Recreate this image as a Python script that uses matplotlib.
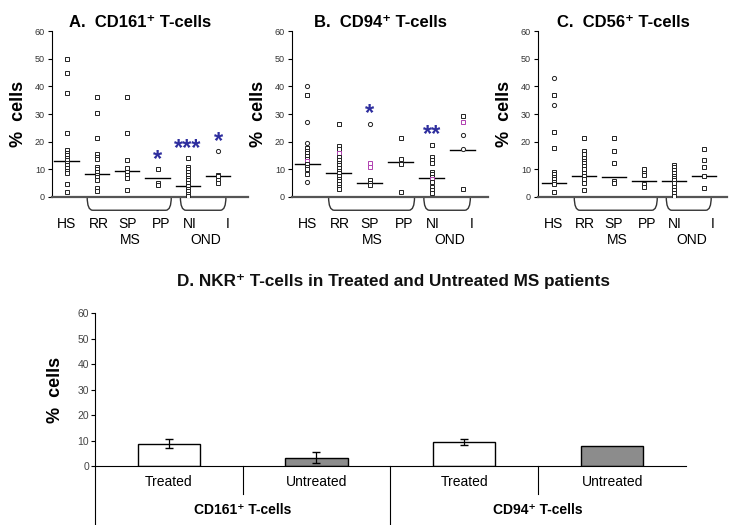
import matplotlib.pyplot as plt
import matplotlib.transforms as mtransforms
from matplotlib.path import Path
from matplotlib.patches import PathPatch

plt.rcParams['font.family'] = ['Liberation Sans', 'DejaVu Sans']

groups = ["HS", "RR", "SP", "PP", "NI", "I"]

# panel A - CD161+ T-cells
cd161 = {
    "HS": [49.9, 44.7, 37.5, 23.0, 17.0, 16.0, 15.2, 14.2, 13.4, 12.4, 11.4, 10.5, 9.5, 8.5, 4.7, 1.9],
    "RR": [36.2, 30.2, 21.2, 15.4, 14.6, 13.6, 11.0, 10.0, 9.0, 8.1, 7.1, 6.1, 3.1, 2.3],
    "SP": [36.2, 23.0, 13.4, 10.4, 9.2, 8.0, 6.8, 2.6],
    "PP": [10.0, 5.2, 4.2],
    "NI": [14.0, 11.0, 10.0, 9.0, 8.0, 7.0, 6.0, 5.0, 4.0, 3.0, 2.0, 1.0, 0.5],
    "I": [16.5, 8.0, 7.5, 6.0, 5.0],
}
cd161_medians = [13.0, 8.2, 9.5, 7.0, 4.0, 7.5]
cd161_circles = {"I": [16.5]}
cd161_pink = {}
cd161_stars = {"PP": "*", "NI": "***", "I": "*"}

# panel B - CD94+ T-cells
cd94 = {
    "HS": [40.1, 37.0, 27.2, 19.6, 17.6, 16.7, 15.8, 14.8, 13.8, 12.9, 11.9, 11.0, 10.0, 8.3, 5.4],
    "RR": [26.3, 18.4, 17.2, 15.8, 14.4, 13.4, 12.4, 11.5, 10.5, 9.5, 8.6, 7.6, 6.6, 5.7, 4.7, 3.7, 2.8],
    "SP": [26.4, 12.2, 11.0, 6.1, 5.2, 4.2],
    "PP": [21.2, 13.7, 11.9, 1.9],
    "NI": [18.8, 14.6, 13.4, 12.2, 9.1, 8.3, 7.3, 6.4, 5.4, 3.7, 2.5, 1.6],
    "I": [29.3, 27.1, 22.4, 17.2, 3.0],
}
cd94_medians = [12.0, 8.8, 5.2, 12.8, 7.0, 17.0]
cd94_circles = {"HS": [40.1, 27.2, 19.6, 5.4], "SP": [26.4], "I": [22.4, 17.2]}
cd94_pink = {"HS": [12.9], "RR": [15.8], "SP": [12.2, 11.0], "NI": [6.4], "I": [27.1]}
cd94_stars = {"SP": "*", "NI": "**"}

# panel C - CD56+ T-cells
cd56 = {
    "HS": [43.1, 36.9, 33.2, 23.6, 17.8, 9.1, 8.3, 7.3, 6.4, 5.5, 4.7, 1.9],
    "RR": [21.2, 16.6, 15.4, 14.2, 13.0, 12.2, 11.2, 10.0, 8.8, 7.6, 6.4, 5.2, 2.5],
    "SP": [21.2, 16.6, 12.4, 5.9, 4.9],
    "PP": [10.0, 8.8, 8.0, 4.7, 3.7],
    "NI": [11.6, 10.7, 9.8, 8.6, 7.6, 6.8, 6.1, 4.9, 3.7, 2.5, 1.3, 0.4],
    "I": [17.2, 13.4, 11.0, 7.6, 3.4],
}
cd56_medians = [5.2, 7.5, 7.2, 5.9, 5.9, 7.5]
cd56_circles = {"HS": [43.1, 33.2]}
cd56_pink = {}
cd56_stars = {}

# panel D - treated vs untreated
d_labels = ["Treated", "Untreated", "Treated", "Untreated"]
d_groups = ["CD161\u207a T-cells", "CD94\u207a T-cells"]
d_means = [8.9, 3.4, 9.4, 8.1]
d_err = [1.8, 2.0, 1.2, 0.0]
d_colors = ["white", "#8c8c8c", "white", "#8c8c8c"]

STAR_BLUE = "#2e2e9e"
PINK = "#b040b0"

fig = plt.figure(figsize=(7.29, 5.25), dpi=100)


def brace(ax, x0, x1):
    tr = mtransforms.blended_transform_factory(ax.transData, ax.transAxes)
    yb = -0.08
    r = 0.18
    verts = [(x0, 0.0), (x0, yb), (x0 + r, yb), (x1 - r, yb), (x1, yb), (x1, 0.0)]
    codes = [Path.MOVETO, Path.CURVE3, Path.CURVE3, Path.LINETO, Path.CURVE3, Path.CURVE3]
    ax.add_patch(PathPatch(Path(verts, codes), transform=tr, fill=False,
                           lw=1.0, ec="#333333", clip_on=False))


def scatter_panel(rect, title, data, medians, circles, pink, stars, xlim):
    ax = fig.add_axes(rect)
    for i, g in enumerate(groups):
        for v in data[g]:
            mk = "o" if v in circles.get(g, []) else "s"
            ec = PINK if v in pink.get(g, []) else "#222222"
            ax.plot(i, v, marker=mk, ms=3.0, mfc="white", mec=ec, mew=0.7, ls="none", zorder=3)
        ax.plot([i - 0.4, i + 0.4], [medians[i], medians[i]], color="black", lw=1.0, zorder=2)
        if g in stars:
            ax.text(i, max(data[g]) - 0.5, stars[g], color=STAR_BLUE, fontsize=17,
                    fontweight="bold", ha="center", va="bottom")
    ax.set_xlim(*xlim)
    ax.set_ylim(0, 60)
    ax.set_yticks(range(0, 61, 10))
    ax.tick_params(axis="y", labelsize=6.5, length=3, width=0.8, labelcolor="#333333", pad=2)
    ax.set_xticks([])
    for s in ["top", "right"]:
        ax.spines[s].set_visible(False)
    ax.spines["left"].set_linewidth(0.8)
    ax.spines["bottom"].set_linewidth(1.6)
    ax.spines["bottom"].set_color("#555555")
    ax.set_ylabel("%  cells", fontsize=13, fontweight="bold", labelpad=6)
    ax.set_title(title, fontsize=12, fontweight="bold", pad=3, x=0.45)
    tr = mtransforms.blended_transform_factory(ax.transData, ax.transAxes)
    offs = [0.0, 0.05, 0.0, 0.1, 0.05, 0.3]
    for i, g in enumerate(groups):
        ax.text(i + offs[i], -0.12, g, transform=tr, ha="center", va="top", fontsize=10)
    ax.text(2.1, -0.215, "MS", transform=tr, ha="center", va="top", fontsize=10)
    ax.text(4.6, -0.215, "OND", transform=tr, ha="center", va="top", fontsize=10)
    brace(ax, 0.68, 3.45)
    brace(ax, 3.75, 5.25)
    return ax


scatter_panel([0.0713, 0.6248, 0.269, 0.316], "A.  CD161\u207a T-cells",
              cd161, cd161_medians, cd161_circles, cd161_pink, cd161_stars, (-0.48, 5.98))
scatter_panel([0.4005, 0.6248, 0.269, 0.316], "B.  CD94\u207a T-cells",
              cd94, cd94_medians, cd94_circles, cd94_pink, cd94_stars, (-0.5, 5.82))
scatter_panel([0.738, 0.6248, 0.259, 0.316], "C.  CD56\u207a T-cells",
              cd56, cd56_medians, cd56_circles, cd56_pink, cd56_stars, (-0.53, 5.77))

# panel D
axd = fig.add_axes([0.130, 0.112, 0.811, 0.291])
xs = [i + 0.5 for i in range(len(d_means))]
axd.bar(xs, d_means, width=0.42, color=d_colors, edgecolor="black", lw=1.0, zorder=2)
for x, m, e in zip(xs, d_means, d_err):
    if e > 0:
        axd.errorbar(x, m, yerr=e, color="black", capsize=3, lw=0.9, zorder=3)
axd.set_xlim(0, 4)
axd.set_ylim(0, 60)
axd.set_yticks(range(0, 61, 10))
axd.tick_params(axis="y", labelsize=7.5, length=3, width=0.8, pad=1, labelcolor="#444444")
axd.set_xticks([])
for s in ["top", "right"]:
    axd.spines[s].set_visible(False)
axd.spines["left"].set_linewidth(0.8)
axd.spines["bottom"].set_linewidth(0.8)
axd.set_ylabel("%  cells", fontsize=13, fontweight="bold", labelpad=10)
axd.set_title("D. NKR\u207a T-cells in Treated and Untreated MS patients",
              fontsize=12.3, fontweight="bold", pad=20, x=0.505, color="#111111")
trd = mtransforms.blended_transform_factory(axd.transData, axd.transAxes)
for x in [1, 3]:
    axd.plot([x, x], [0, -0.18], transform=trd, color="black", lw=0.8, clip_on=False)
for x in [0, 2]:
    axd.plot([x, x], [0, -0.40], transform=trd, color="black", lw=0.8, clip_on=False)
for x, lab in zip(xs, d_labels):
    axd.text(x, -0.06, lab, transform=trd, ha="center", va="top", fontsize=10)
for x, lab in zip([1, 3], d_groups):
    axd.text(x, -0.24, lab, transform=trd, ha="center", va="top", fontsize=10, fontweight="bold")

fig.savefig("out.png", dpi=100)
